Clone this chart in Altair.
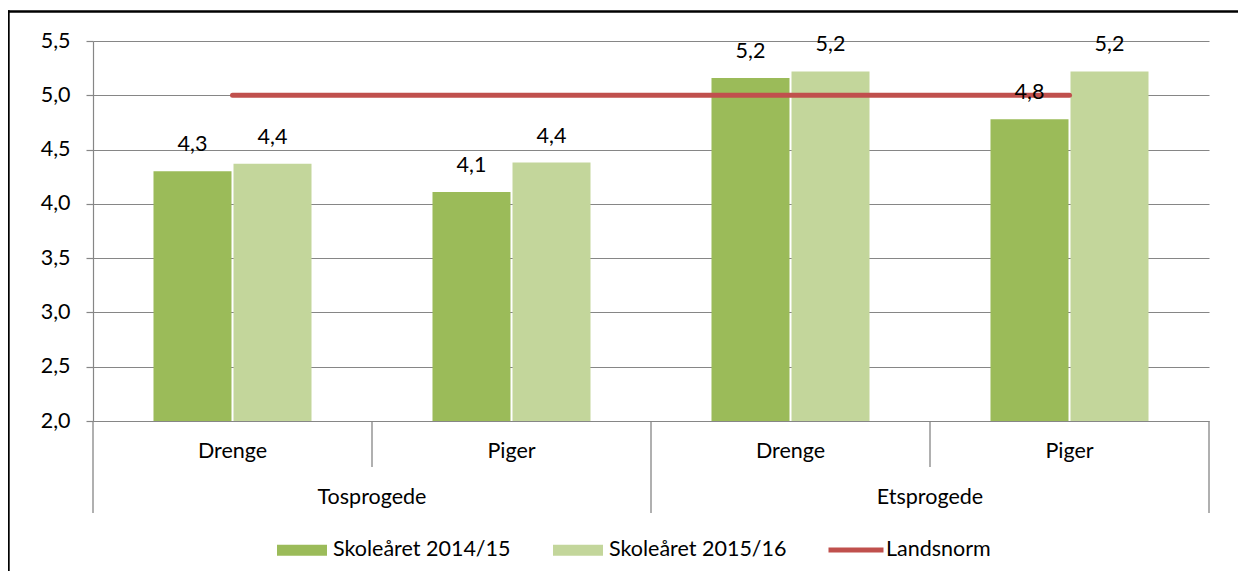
import altair as alt
import pandas as pd

# ---- data ----
groups = ["Tosprogede", "Tosprogede", "Etsprogede", "Etsprogede"]
genders = ["Drenge", "Piger", "Drenge", "Piger"]
years = ["Skoleåret 2014/15", "Skoleåret 2015/16"]
values_1415 = [4.30, 4.11, 5.16, 4.78]
values_1516 = [4.37, 4.38, 5.22, 5.22]
norm_name = "Landsnorm"
norm_values = [5.0, 5.0, 5.0, 5.0]
y_ticks = [2.0, 2.5, 3.0, 3.5, 4.0, 4.5, 5.0, 5.5]

# ---- styles ----
DARK = "#9BBB59"
LIGHT = "#C3D69B"
RED = "#C0504D"
GRAY = "#868686"
FONT = "Lato"
FS = 21.5

keys = [f"{g}|{s}" for g, s in zip(groups, genders)]

bars = pd.DataFrame({
    "key": keys * 2,
    "year": [years[0]] * 4 + [years[1]] * 4,
    "value": values_1415 + values_1516,
})
cats = pd.DataFrame({"key": keys, "group": groups, "gender": genders})
norm = pd.DataFrame({"key": keys, "value": norm_values, "series": [norm_name] * 4})
frame = pd.DataFrame({"f": [0]})

x_scale = alt.Scale(domain=keys, paddingInner=0, paddingOuter=0)
y_scale = alt.Scale(domain=[2.0, 5.5], nice=False, zero=False)
off_scale = alt.Scale(domain=years, paddingInner=0.025, paddingOuter=0.756)

label_expr = "replace(format(datum.value, '.1f'), '.', ',')"

bar_layer = alt.Chart(bars).mark_bar().encode(
    x=alt.X("key:N", scale=x_scale, sort=keys, axis=None),
    xOffset=alt.XOffset("year:N", scale=off_scale, sort=years),
    y=alt.Y("value:Q", scale=y_scale, title=None,
            axis=alt.Axis(values=y_ticks, labelExpr=label_expr, grid=True,
                          gridColor=GRAY, gridWidth=1.2, domainColor=GRAY,
                          domainWidth=1.2, tickColor=GRAY, tickSize=7,
                          tickWidth=1.2, labelPadding=16, labelFont=FONT,
                          labelFontSize=FS, labelColor="black")),
    y2=alt.datum(2.0),
    fill=alt.Fill("year:N", scale=alt.Scale(domain=years, range=[DARK, LIGHT]),
                  legend=alt.Legend(title=None, orient="none", legendX=184,
                                    legendY=484, direction="horizontal",
                                    symbolType="M-1,-0.22H1V0.22H-1Z",
                                    symbolSize=2500, symbolStrokeWidth=0,
                                    labelFont=FONT, labelFontSize=FS,
                                    labelColor="black", labelOffset=6,
                                    labelLimit=400, columnPadding=42)),
)

bar_text = alt.Chart(bars).transform_calculate(
    label=label_expr
).mark_text(dy=-26, baseline="middle", font=FONT, fontSize=FS, color="black").encode(
    x=alt.X("key:N", scale=x_scale, sort=keys, axis=None),
    xOffset=alt.XOffset("year:N", scale=off_scale, sort=years),
    y=alt.Y("value:Q", scale=y_scale),
    text="label:N",
)

norm_line = alt.Chart(norm).mark_line(strokeWidth=5, strokeCap="round").encode(
    x=alt.X("key:N", scale=x_scale, sort=keys, axis=None),
    y=alt.Y("value:Q", scale=y_scale),
    stroke=alt.Stroke("series:N", scale=alt.Scale(domain=[norm_name], range=[RED]),
                      legend=alt.Legend(title=None, orient="none", legendX=733,
                                        legendY=479, symbolType="stroke",
                                        symbolSize=3025, symbolStrokeWidth=5,
                                        labelFont=FONT, labelFontSize=FS,
                                        labelColor="black", labelOffset=0,
                                        labelLimit=400)),
)

sep_long = alt.Chart(cats).transform_filter("datum.gender == 'Drenge'").mark_rule(
    color=GRAY, strokeWidth=1.3).encode(
    x=alt.X("key:N", scale=x_scale, sort=keys, bandPosition=0, axis=None),
    y=alt.value(380), y2=alt.value(472),
)
sep_end = alt.Chart(cats).transform_filter(f"datum.key == '{keys[-1]}'").mark_rule(
    color=GRAY, strokeWidth=1.3).encode(
    x=alt.X("key:N", scale=x_scale, sort=keys, bandPosition=1, axis=None),
    y=alt.value(380), y2=alt.value(472),
)
sep_short = alt.Chart(cats).transform_filter("datum.gender == 'Piger'").mark_rule(
    color=GRAY, strokeWidth=1.3).encode(
    x=alt.X("key:N", scale=x_scale, sort=keys, bandPosition=0, axis=None),
    y=alt.value(380), y2=alt.value(426),
)

gender_text = alt.Chart(cats).mark_text(
    baseline="middle", font=FONT, fontSize=FS, color="black").encode(
    x=alt.X("key:N", scale=x_scale, sort=keys, axis=None),
    y=alt.value(411),
    text="gender:N",
)
group_text = alt.Chart(cats).transform_filter("datum.gender == 'Piger'").mark_text(
    baseline="middle", font=FONT, fontSize=FS, color="black").encode(
    x=alt.X("key:N", scale=x_scale, sort=keys, bandPosition=0, axis=None),
    y=alt.value(457),
    text="group:N",
)

# chart frame (left and top edges) as thin filled rectangles
border_left = alt.Chart(frame).mark_rect(color="black", strokeWidth=0).encode(
    x=alt.value(-85.8), x2=alt.value(-83.3), y=alt.value(-30.8), y2=alt.value(600),
)
border_top = alt.Chart(frame).mark_rect(color="black", strokeWidth=0).encode(
    x=alt.value(-85.8), x2=alt.value(1145), y=alt.value(-30.8), y2=alt.value(-28.3),
)

chart = alt.layer(
    bar_layer, norm_line, bar_text, sep_long, sep_end, sep_short,
    gender_text, group_text, border_left, border_top,
).properties(
    width=1116, height=380,
    autosize=alt.AutoSizeParams(type="none"),
    padding={"left": 85, "top": 33, "right": 29, "bottom": 150},
).configure_view(stroke=None).resolve_scale(x="shared")

chart.save("out.html", embed_options={"renderer": "svg", "actions": False})
